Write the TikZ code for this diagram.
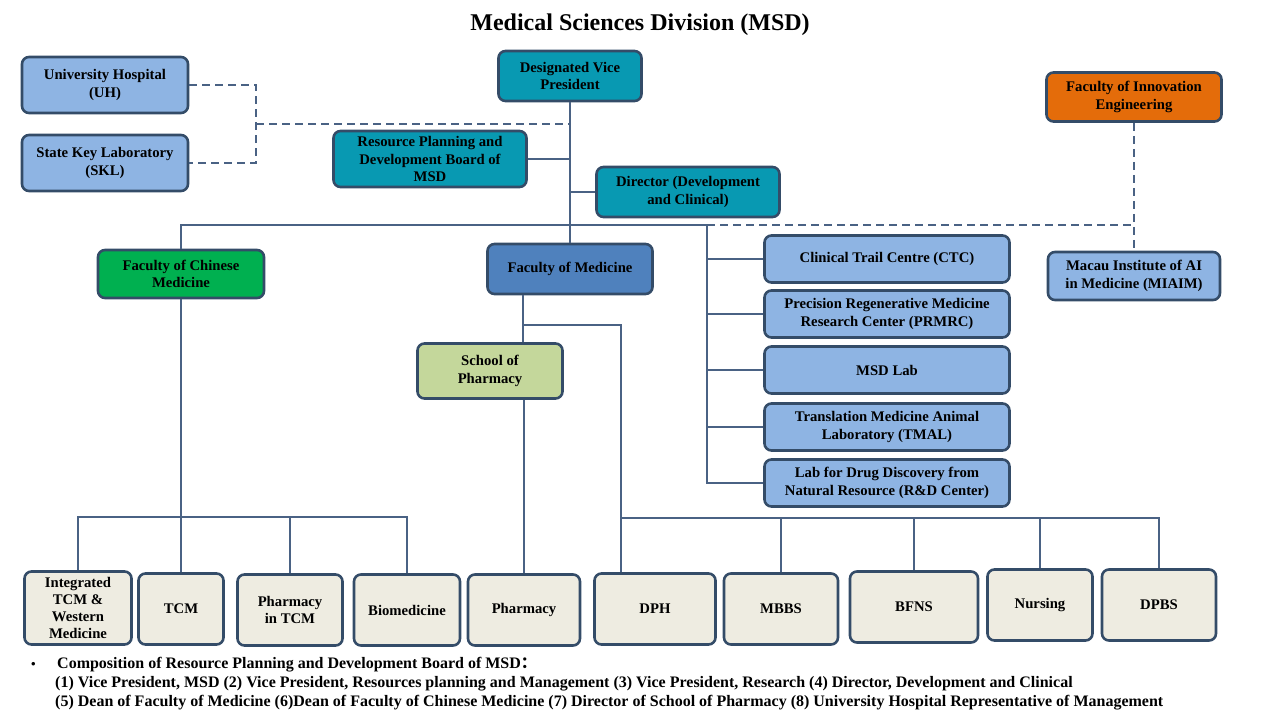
\documentclass[tikz,border=0pt]{standalone}
\usepackage{fontspec}
\setmainfont{Liberation Serif}
\newfontfamily\cjkfont{Noto Sans CJK SC}
\usetikzlibrary{positioning}

\definecolor{bordc}{RGB}{52,76,104}
\definecolor{linec}{RGB}{74,98,132}
\definecolor{tealc}{RGB}{8,153,178}
\definecolor{lblue}{RGB}{142,180,227}
\definecolor{mblue}{RGB}{79,129,189}
\definecolor{greenc}{RGB}{0,176,80}
\definecolor{orangec}{RGB}{228,108,10}
\definecolor{beige}{RGB}{238,236,225}
\definecolor{olive}{RGB}{196,215,155}

\tikzset{
  box/.style={draw=bordc, line width=2.6pt, rounded corners=7pt, align=center,
    inner sep=0pt, font=\bfseries\fontsize{14.7}{17.5}\selectfont},
  unit/.style={box, fill=beige, minimum height=71pt, font=\bfseries\fontsize{14.7}{17}\selectfont},
  link/.style={draw=linec, line width=1.8pt},
  dashlink/.style={link, dash pattern=on 8pt off 5pt},
  notefont/.style={anchor=base west, inner sep=0pt, font=\bfseries\fontsize{16}{19}\selectfont}
}

\begin{document}
\begin{tikzpicture}[x=1pt, y=-1pt]
    \useasboundingbox (0,0) rectangle (1280,720);

    \node[font=\bfseries\fontsize{24}{28}\selectfont] (title) at (640,25) {Medical Sciences Division (MSD)};

    % top level
    \node[box, fill=tealc, minimum width=143pt, minimum height=50pt] (vp) at (570,76) {Designated Vice\\President};
    \node[box, fill=lblue, minimum width=166pt, minimum height=56pt] (uh) at (105,85) {University Hospital\\(UH)};
    \node[box, fill=lblue, minimum width=166pt, minimum height=56pt] (skl) at (105,163) {State Key Laboratory\\(SKL)};
    \node[box, fill=tealc, minimum width=193pt, minimum height=56pt] (rpdb) at (430,159) {Resource Planning and\\Development Board of\\MSD};
    \node[box, fill=tealc, minimum width=183pt, minimum height=50pt] (dir) at (688,192) {Director (Development\\and Clinical)};
    \node[box, fill=orangec, minimum width=175pt, minimum height=49pt] (fie) at (1134,97) {Faculty of Innovation\\Engineering};

    % faculties
    \node[box, fill=greenc, minimum width=166pt, minimum height=48pt] (fcm) at (181,274) {Faculty of Chinese\\Medicine};
    \node[box, fill=mblue, minimum width=165pt, minimum height=50pt] (fom) at (570,269) {Faculty of Medicine};
    \node[box, fill=olive, minimum width=145pt, minimum height=55pt] (sop) at (490,371) {School of\\Pharmacy};
    \node[box, fill=lblue, minimum width=172pt, minimum height=48pt] (miaim) at (1134,276) {Macau Institute of AI\\in Medicine (MIAIM)};

    % centres
    \node[box, fill=lblue, minimum width=245pt, minimum height=47pt] (ctc) at (887,259) {Clinical Trail Centre (CTC)};
    \node[box, fill=lblue, minimum width=245pt, minimum height=47pt] (prmrc) at (887,314) {Precision Regenerative Medicine\\Research Center (PRMRC)};
    \node[box, fill=lblue, minimum width=245pt, minimum height=47pt] (msdlab) at (887,370) {MSD Lab};
    \node[box, fill=lblue, minimum width=245pt, minimum height=47pt] (tmal) at (887,427) {Translation Medicine Animal\\Laboratory (TMAL)};
    \node[box, fill=lblue, minimum width=245pt, minimum height=47pt] (lab) at (887,483) {Lab for Drug Discovery from\\Natural Resource (R\&D Center)};

    % units
    \node[unit, minimum width=107pt, minimum height=73pt] (integ) at (78,608) {Integrated\\TCM \&\\Western\\Medicine};
    \node[unit, minimum width=85pt] (tcm) at (181,609) {TCM};
    \node[unit, minimum width=105pt] (ptcm) at (290,610) {Pharmacy\\in TCM};
    \node[unit, minimum width=106pt] (biomed) at (407,610) {Biomedicine};
    \node[unit, minimum width=112pt] (pharm) at (524,610) {Pharmacy};
    \node[unit, minimum width=121pt] (dph) at (655,609) {DPH};
    \node[unit, minimum width=114pt] (mbbs) at (781,609) {MBBS};
    \node[unit, minimum width=128pt] (bfns) at (914,607) {BFNS};
    \node[unit, minimum width=105pt] (nursing) at (1040,605) {Nursing};
    \node[unit, minimum width=114pt] (dpbs) at (1159,605) {DPBS};

    \coordinate (dj) at (256,124);
    \coordinate (busL) at (181,225);
    \coordinate (busM) at (707,225);
    \coordinate (busR) at (1134,225);
    \coordinate (fomS) at (523,325);
    \coordinate (mbus) at (621,518);
    \coordinate (cbus) at (181,517);

    % connectors
    \draw[link] (vp) -- (fom);
    \draw[link] (rpdb.east) -- (rpdb.east -| vp);
    \draw[link] (dir.west) -- (dir.west -| vp);
    \draw[dashlink] (uh.east) -| (dj) |- (skl.east);
    \draw[dashlink] (dj) -- (dj -| vp);
    \draw[link] (fcm.north) -- (busL) -- (busM);
    \draw[dashlink] (busM) -- (busR);
    \draw[dashlink] (fie) -- (miaim);
    \draw[link] (busM) |- (lab.west);
    \foreach \n in {ctc,prmrc,msdlab,tmal}
      \draw[link] (\n.west) -- (\n.west -| busM);

    \draw[link] (fom.south -| fomS) -- (sop.north -| fomS);
    \draw[link] (fomS) -| (mbus) -- (dph.north -| mbus);
    \draw[link] (mbus) -| (dpbs.north);
    \foreach \n in {mbbs,bfns,nursing}
      \draw[link] (\n.north) -- (\n.north |- mbus);
    \draw[link] (sop.south -| pharm) -- (pharm.north);

    \draw[link] (fcm) -- (tcm);
    \draw[link] (integ.north) |- (cbus -| biomed) -- (biomed.north);
    \draw[link] (ptcm.north) -- (ptcm.north |- cbus);

    % note
    \node[notefont, font=\bfseries\fontsize{13}{16}\selectfont] (dot) at (31,668) {•};
    \node[notefont] (note) at (57,668)
      {Composition of Resource Planning and Development Board of MSD{\cjkfont ：}};
    \node[notefont] (item1) at (55,687)
      {(1) Vice President, MSD (2) Vice President, Resources planning and Management (3) Vice President, Research (4) Director, Development and Clinical};
    \node[notefont] (item2) at (55,706)
      {(5) Dean of Faculty of Medicine (6)Dean of Faculty of Chinese Medicine (7) Director of School of Pharmacy (8) University Hospital Representative of Management};

    \end{tikzpicture}
\end{document}
